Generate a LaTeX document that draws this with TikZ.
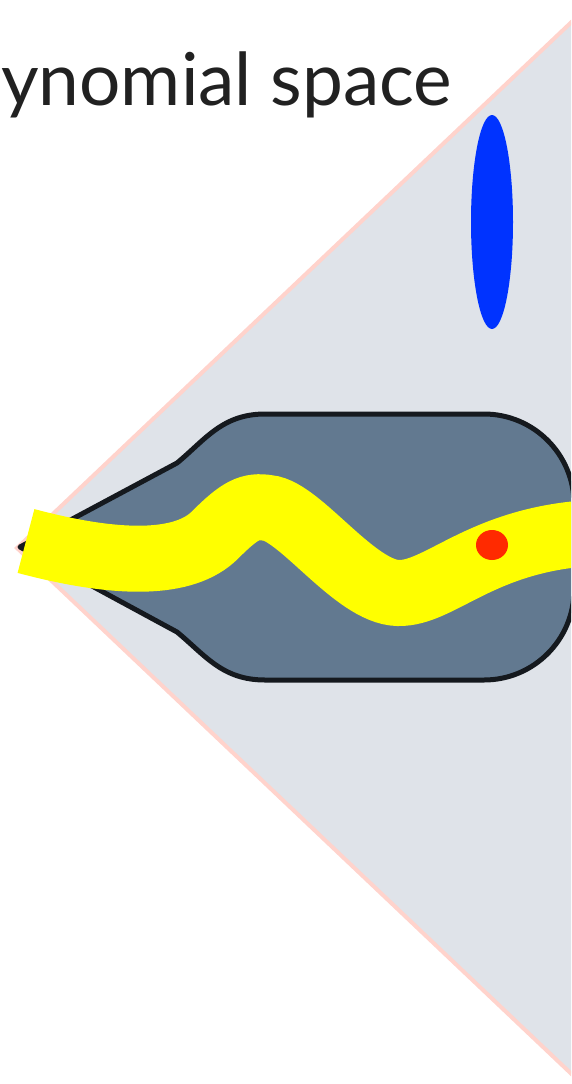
\documentclass[tikz,border=0pt]{standalone}
\usepackage{fontspec}
\setmainfont{Lato}

\definecolor{conebg}{HTML}{DFE3E9}
\definecolor{coneedge}{HTML}{FFD3CC}
\definecolor{blobfill}{HTML}{627990}
\definecolor{blobedge}{HTML}{15191E}
\definecolor{pathyellow}{HTML}{FFFF00}
\definecolor{dotred}{HTML}{FF2A00}
\definecolor{dotblue}{HTML}{0033FF}

\begin{document}
\begin{tikzpicture}[x=1pt, y=-1pt,
  title/.style={inner sep=0pt, text=black!87, font=\fontsize{73}{80}\selectfont}]
  \useasboundingbox (0,0) rectangle (571,1084);
  \clip (0,0) rectangle (571,1084);
  % cone
  \fill[conebg] (17,548) -- (600,-5) -- (600,1101) -- cycle;
  \draw[coneedge, line width=4pt] (600,-5) -- (17,548) -- (600,1101);
  % title
  \node[title, anchor=base west] (title) at (1,105) {ynomial space};
  % blue ellipse
  \fill[dotblue] (492,222) ellipse (21 and 107);
  % blob
  \draw[fill=blobfill, draw=blobedge, line width=5pt, line join=round]
    (20,547) -- (177,463) .. controls (205,440) and (222,414) .. (265,414)
    -- (484,414) arc (-90:0:90) -- (574,590) arc (0:90:90)
    -- (265,680) .. controls (222,680) and (205,655) .. (177,632) -- cycle;
  % yellow band
  \draw[pathyellow, line width=66pt, line cap=butt]
    (26,541) .. controls (120,566) and (185,565) .. (215,535)
    .. controls (240,510) and (250,505) .. (268,508)
    .. controls (300,511) and (355,592) .. (398,593)
    .. controls (440,594) and (480,540) .. (590,533);
  % red dot
  \fill[dotred] (492,545) ellipse (16 and 15);
\end{tikzpicture}
\end{document}
